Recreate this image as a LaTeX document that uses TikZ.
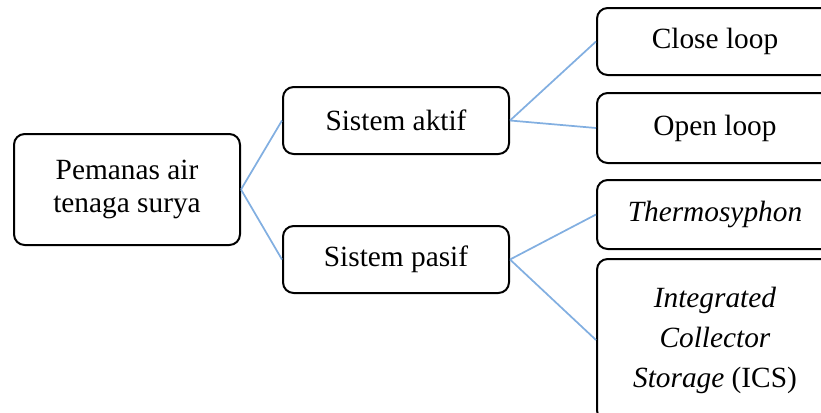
\documentclass[tikz,border=0pt]{standalone}
\usepackage{fontspec}
\setmainfont{Liberation Serif}
\definecolor{linkblue}{RGB}{130,175,225}
\tikzset{every picture/.style={line width=0.75pt}}
\tikzset{
  box/.style={draw=black, line width=1.5pt, rounded corners=8pt, align=center,
    inner sep=0.75pt, font=\fontsize{22}{24.5}\selectfont},
  link/.style={draw=linkblue, line width=1.3pt}
}

\begin{document}
\begin{tikzpicture}[x=0.75pt,y=0.75pt,yscale=-1,xscale=1]
\useasboundingbox (0,0) rectangle (821,412);

% Text Node
\node (root) [box, minimum width=169.5pt, minimum height=83.25pt] at (127,189.5) {Pemanas air\\tenaga surya};
% Text Node
\node (aktif) [box, minimum width=169.5pt, minimum height=50.25pt] at (396,120.5) {Sistem aktif};
% Text Node
\node (pasif) [box, minimum width=169.5pt, minimum height=50.25pt] at (396,259.5) {Sistem pasif};
% Text Node
\node (close) [box, minimum width=177pt, minimum height=50.25pt] at (715,41.5) {Close loop};
% Text Node
\node (open) [box, minimum width=177pt, minimum height=52.5pt] at (715,128) {Open loop};
% Text Node
\node (thermo) [box, minimum width=177pt, minimum height=51.75pt] at (715,214.5) {\textit{Thermosyphon}};
% Text Node
\node (ics) [box, minimum width=177pt, minimum height=121.5pt, font=\fontsize{22}{30}\selectfont] at (715,340) {\textit{Integrated}\\\textit{Collector}\\\textit{Storage} (ICS)};

%Straight Lines
\draw [link] (root.east) -- (aktif.west) ;
\draw [link] (root.east) -- (pasif.west) ;
\draw [link] (aktif.east) -- (close.west) ;
\draw [link] (aktif.east) -- (open.west) ;
\draw [link] (pasif.east) -- (thermo.west) ;
\draw [link] (pasif.east) -- (ics.west) ;

\end{tikzpicture}
\end{document}
